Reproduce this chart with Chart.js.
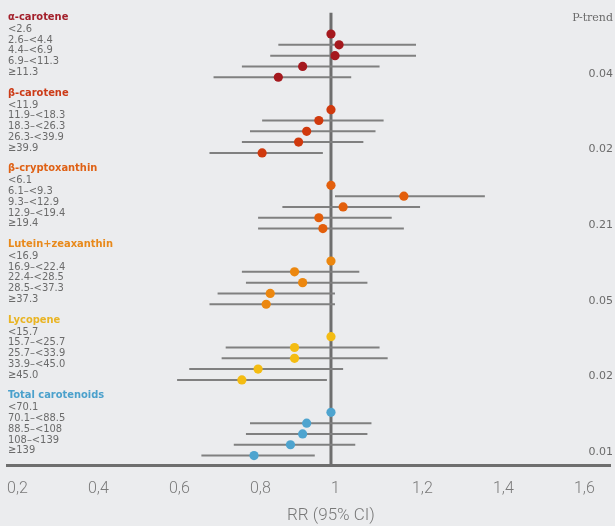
<!doctype html>
<html lang="en">
  <head>
    <meta charset="utf-8">
    <title>Carotenoids RR</title>
    <style>
      * { margin: 0; padding: 0; }
      body { background: #ebecee; }
      .chartBox { width: 615px; height: 526px; }
    </style>
  </head>
  <body>
    <div class="chartBox">
      <canvas id="myChart"></canvas>
    </div>
    <script src="https://cdn.jsdelivr.net/npm/chart.js/dist/chart.umd.min.js"></script>
    <script>
    // data
    const groups = ['α-carotene', 'β-carotene', 'β-cryptoxanthin', 'Lutein+zeaxanthin', 'Lycopene', 'Total carotenoids'];
    const levels = [
      ['<2.6', '2.6–<4.4', '4.4–<6.9', '6.9–<11.3', '≥11.3'],
      ['<11.9', '11.9–<18.3', '18.3–<26.3', '26.3-<39.9', '≥39.9'],
      ['<6.1', '6.1–<9.3', '9.3–<12.9', '12.9–<19.4', '≥19.4'],
      ['<16.9', '16.9–<22.4', '22.4-<28.5', '28.5-<37.3', '≥37.3'],
      ['<15.7', '15.7–<25.7', '25.7–<33.9', '33.9–<45.0', '≥45.0'],
      ['<70.1', '70.1–<88.5', '88.5–<108', '108–<139', '≥139']
    ];
    const rr = [
      [1, 1.02, 1.01, 0.93, 0.87],
      [1, 0.97, 0.94, 0.92, 0.83],
      [1, 1.18, 1.03, 0.97, 0.98],
      [1, 0.91, 0.93, 0.85, 0.84],
      [1, 0.91, 0.91, 0.82, 0.78],
      [1, 0.94, 0.93, 0.90, 0.81]
    ];
    const ciLow = [
      [null, 0.87, 0.85, 0.78, 0.71],
      [null, 0.83, 0.80, 0.78, 0.70],
      [null, 1.01, 0.88, 0.82, 0.82],
      [null, 0.78, 0.79, 0.72, 0.70],
      [null, 0.74, 0.73, 0.65, 0.62],
      [null, 0.80, 0.79, 0.76, 0.68]
    ];
    const ciHigh = [
      [null, 1.21, 1.21, 1.12, 1.05],
      [null, 1.13, 1.11, 1.08, 0.98],
      [null, 1.38, 1.22, 1.15, 1.18],
      [null, 1.07, 1.09, 1.01, 1.01],
      [null, 1.12, 1.14, 1.03, 0.99],
      [null, 1.10, 1.09, 1.06, 0.96]
    ];
    const pTrend = ['0.04', '0.02', '0.21', '0.05', '0.02', '0.01'];
    const xTicks = [0.2, 0.4, 0.6, 0.8, 1, 1.2, 1.4, 1.6];

    const groupColors = ['#a5191e', '#d0390d', '#e35f0c', '#ec870e', '#f4bc12', '#4ea4cf'];
    const headerColors = ['#a3202b', '#cc3b17', '#df6115', '#e8891a', '#e9b423', '#4ba1cc'];
    const labelFont = '"Liberation Sans Narrow", "DejaVu Sans Condensed", Roboto, sans-serif';

    const rowsPerGroup = 7;
    const yTop = -1, yBottom = 40.9;
    const rowOf = (g, r) => rowsPerGroup * g + 1 + r;

    // dots and whiskers
    const dots = [], dotColors = [], whiskers = [];
    groups.forEach((name, g) => {
      rr[g].forEach((v, r) => {
        dots.push({x: v, y: rowOf(g, r)});
        dotColors.push(groupColors[g]);
        if (ciLow[g][r] !== null) {
          whiskers.push({x: ciLow[g][r], y: rowOf(g, r)});
          whiskers.push({x: ciHigh[g][r], y: rowOf(g, r)});
          whiskers.push({x: null, y: null});
        }
      });
    });

    const textPlugin = {
      id: 'sideText',
      afterDraw: (chart) => {
        const {ctx, scales: {x, y}} = chart;
        ctx.save();
        ctx.textBaseline = 'middle';
        groups.forEach((name, g) => {
          ctx.textAlign = 'left';
          ctx.font = 'bold 11px ' + labelFont;
          ctx.fillStyle = headerColors[g];
          ctx.fillText(name, 8, y.getPixelForValue(rowsPerGroup * g) - 6);
          ctx.font = '11px ' + labelFont;
          ctx.fillStyle = '#6b6b6b';
          levels[g].forEach((lab, r) => {
            ctx.fillText(lab, 8, y.getPixelForValue(rowOf(g, r)) - 5);
          });
          ctx.textAlign = 'right';
          ctx.font = '11px "DejaVu Sans", sans-serif';
          ctx.fillText(pTrend[g], 613, y.getPixelForValue(rowOf(g, 4)) - 3.5);
        });
        ctx.textAlign = 'right';
        ctx.font = '11px "DejaVu Serif", serif';
        ctx.fillStyle = '#6b6b6b';
        ctx.fillText('P-trend', 613, y.getPixelForValue(0) - 5);
        ctx.textAlign = 'center';
        ctx.font = '300 17px Roboto, sans-serif';
        ctx.fillStyle = '#787878';
        ctx.fillText('RR (95% CI)', x.getPixelForValue(1), 516);
        ctx.restore();
      }
    };

    const ctx = document.getElementById('myChart');
    const myChart = new Chart(ctx, {
      type: 'scatter',
      data: {
        datasets: [
          {
            data: dots,
            pointBackgroundColor: dotColors,
            pointBorderWidth: 0,
            pointRadius: 4.6,
            order: 0
          },
          {
            data: whiskers,
            showLine: true,
            spanGaps: false,
            borderColor: '#808080',
            borderWidth: 2,
            pointRadius: 0,
            order: 1
          },
          {
            data: [{x: 1, y: yTop}, {x: 1, y: yBottom}],
            showLine: true,
            borderColor: '#6e6e6e',
            borderWidth: 3,
            pointRadius: 0,
            order: 2
          }
        ]
      },
      options: {
        responsive: true,
        maintainAspectRatio: false,
        animation: false,
        layout: {
          padding: {top: 12.4, left: 7, right: 0.5, bottom: 21.5}
        },
        plugins: {
          legend: {display: false},
          tooltip: {enabled: false}
        },
        scales: {
          x: {
            type: 'linear',
            min: 0.2,
            max: 1.69,
            afterBuildTicks: (scale) => {
              scale.ticks = xTicks.map(v => ({value: v}));
            },
            // tick marks hidden (grid off) but their length still spaces the labels
            grid: {display: false, drawTicks: true, tickLength: 8},
            border: {display: true, color: '#6e6e6e', width: 3},
            ticks: {
              align: 'start',
              padding: 6,
              color: '#7a7a7a',
              font: {family: 'Roboto', size: 16, weight: '300'},
              callback: (v) => String(Number(v.toFixed(1))).replace('.', ',')
            }
          },
          y: {
            type: 'linear',
            reverse: true,
            min: yTop,
            max: yBottom,
            display: false
          }
        }
      },
      plugins: [textPlugin]
    });
    </script>
  </body>
</html>
